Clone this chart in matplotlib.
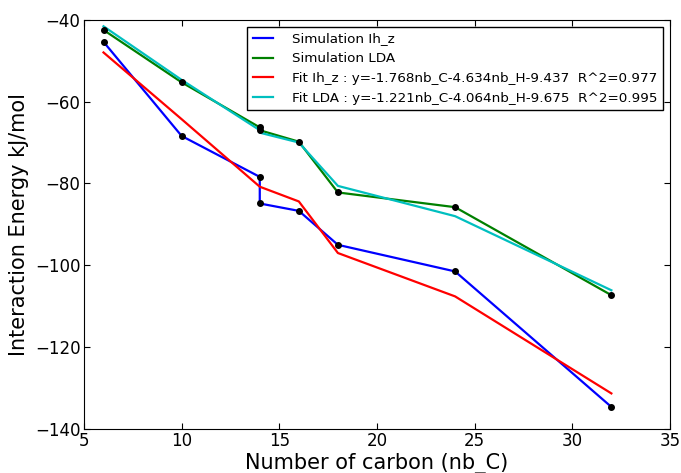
import matplotlib
matplotlib.use("Agg")
import matplotlib.pyplot as plt

# data
nb_C = [6, 10, 14, 14, 16, 18, 24, 32]
sim_ihz = [-45.4, -68.4, -78.4, -84.9, -86.7, -95.0, -101.5, -134.6]
sim_lda = [-42.5, -55.3, -66.3, -67.0, -69.8, -82.2, -85.8, -107.3]
fit_ihz = [-48.0, -64.3, -80.8, -80.8, -84.4, -97.0, -107.6, -131.3]
fit_lda = [-41.6, -54.7, -67.0, -67.6, -70.0, -80.6, -88.0, -106.1]

lbl_fit_ihz = "Fit Ih_z : y=-1.768nb_C-4.634nb_H-9.437  R^2=0.977"
lbl_fit_lda = "Fit LDA : y=-1.221nb_C-4.064nb_H-9.675  R^2=0.995"

plt.rcParams['font.family'] = 'DejaVu Sans'
fig = plt.figure(figsize=(6.81, 4.73), dpi=100)
ax = fig.add_axes([0.1233, 0.093, 0.8605, 0.8653])

ax.plot(nb_C, sim_ihz, color='b', lw=1.6, label='Simulation Ih_z')
ax.plot(nb_C, sim_lda, color='g', lw=1.6, label='Simulation LDA')
ax.plot(nb_C, fit_ihz, color='r', lw=1.6, label=lbl_fit_ihz)
ax.plot(nb_C, fit_lda, color='c', lw=1.6, label=lbl_fit_lda)
ax.plot(nb_C, sim_ihz, 'ko', ms=4)
ax.plot(nb_C, sim_lda, 'ko', ms=4)

ax.set_xlim(5, 35)
ax.set_ylim(-140, -40)
ax.set_xlabel('Number of carbon (nb_C)', fontsize=15, labelpad=2)
ax.set_ylabel('Interaction Energy kJ/mol', fontsize=15, labelpad=4)
ax.tick_params(direction='in', top=True, right=True, labelsize=12, length=4, pad=2.5)

leg = ax.legend(loc='upper right', fontsize=9.7, fancybox=False, framealpha=1,
                edgecolor='k', borderaxespad=0.55, handlelength=1.5,
                handletextpad=1.4, labelspacing=0.5)
leg.get_frame().set_linewidth(1.0)

fig.savefig('out.png', dpi=100)
